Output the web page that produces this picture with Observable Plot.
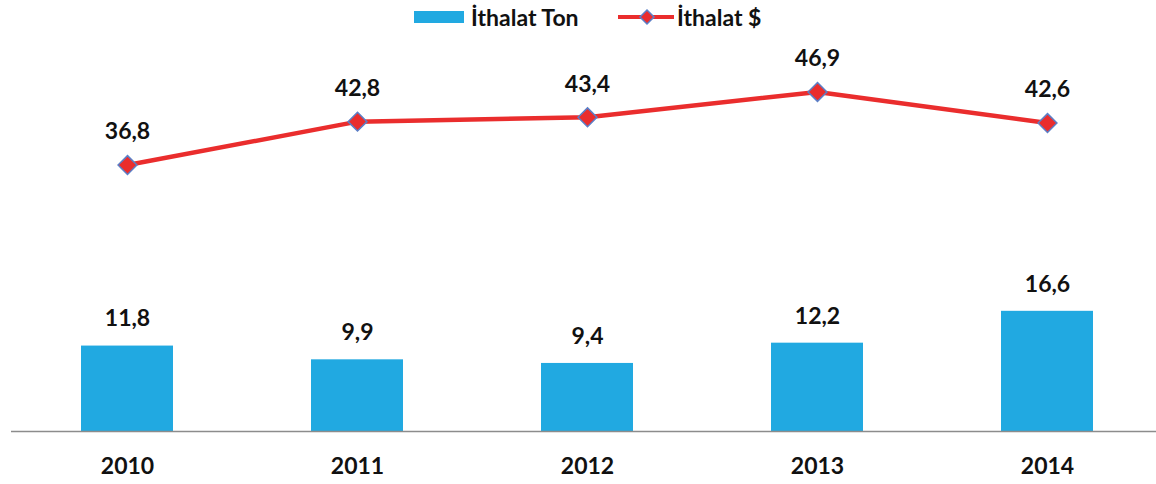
<!DOCTYPE html>
<html><head><meta charset="utf-8">
<script src="https://cdn.jsdelivr.net/npm/d3@7"></script>
<script src="https://cdn.jsdelivr.net/npm/@observablehq/plot@0.6"></script>
<style>
body{margin:0;background:#fff;font-family:Lato,"Open Sans",sans-serif;}
#legend{height:34px;position:relative;font-weight:bold;font-size:23px;color:#111}
.item{position:absolute;top:0;height:34px;display:flex;align-items:center}
</style></head><body>
<div id="legend">
  <div class="item" style="left:414px"><svg width="50" height="12" style="margin-right:7px"><rect width="50" height="12" fill="#21a9e1"/></svg><span>İthalat Ton</span></div>
  <div class="item" style="left:618px"><svg width="56" height="18" style="margin-right:3px"><line x1="0" x2="56" y1="9" y2="9" stroke="#ea2d2d" stroke-width="4"/><path d="M29,2 L36,9 L29,16 L22,9Z" fill="#ea2d2d" stroke="#5b7fc7" stroke-width="1.5"/></svg><span>İthalat $</span></div>
</div>
<div id="chart"></div>
<script>
const years = ["2010","2011","2012","2013","2014"];
const importTon = [11.8, 9.9, 9.4, 12.2, 16.6];
const importUsd = [36.8, 42.8, 43.4, 46.9, 42.6];
const fmt = v => v.toFixed(1).replace(".", ",");
const data = years.map((y,i)=>({year:y, ton:importTon[i], usd:importUsd[i]}));

const chart = Plot.plot({
  width: 1156, height: 450,
  marginLeft: 11, marginRight: -8, marginTop: 35, marginBottom: 53,
  style: {fontFamily: "Lato, 'Open Sans', sans-serif", background: "#fff", overflow: "hidden"},
  x: {type: "band", domain: years, paddingInner: 0.6, paddingOuter: 0.3, label: null},
  y: {domain: [0, 50], axis: null},
  marks: [
    Plot.barY(data, {x: "year", y: "ton", fill: "#21a9e1"}),
    Plot.ruleY([0], {stroke: "#8c8c8c", strokeWidth: 1.5}),
    Plot.line(data, {x: "year", y: "usd", stroke: "#ea2d2d", strokeWidth: 4.5}),
    Plot.dot(data, {x: "year", y: "usd", symbol: "diamond2", r: 8.5, fill: "#ea2d2d", stroke: "#5b7fc7", strokeWidth: 1.5}),
    Plot.text(data, {x: "year", y: "usd", text: d => fmt(d.usd), dy: -33, fontSize: 23, fontWeight: "bold", fill: "#111"}),
    Plot.text(data, {x: "year", y: "ton", text: d => fmt(d.ton), dy: -27, fontSize: 23, fontWeight: "bold", fill: "#111"}),
    Plot.axisX({tickSize: 0, tickPadding: 0, dy: 26, fontSize: 23, fontWeight: "bold", fill: "#111", label: null})
  ]
});
document.getElementById("chart").appendChild(chart);
</script>
</body></html>
